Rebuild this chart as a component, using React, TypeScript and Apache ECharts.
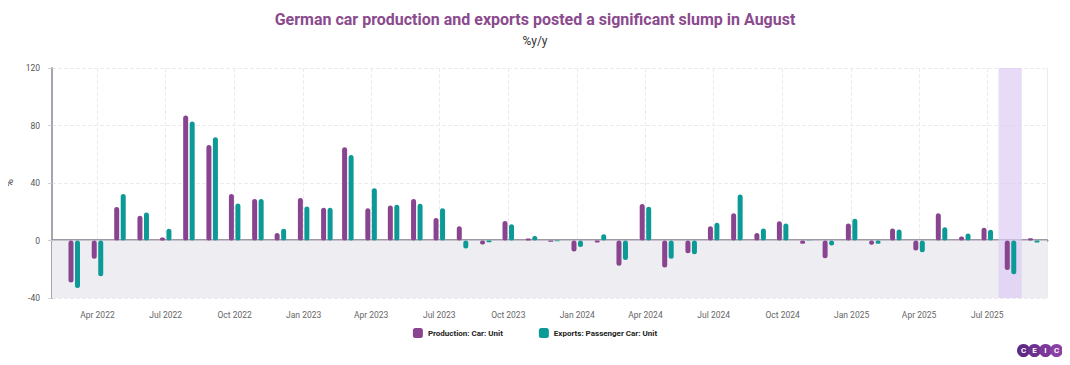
import React, { useEffect, useRef } from "react";
import * as echarts from "echarts";

const startYear = 2022;
const startMonth = 2; // March (0-based)

const production = [
  -29.3, -12.7, 23.3, 17.3, 2.1, 86.9, 66.4, 32.3, 28.8, 5.3,
  29.5, 22.8, 64.8, 22.4, 24.4, 28.8, 15.7, 9.9, -2.8, 13.6, 1.4, -0.9,
  -7.6, -1.4, -17.5, 25.4, -18.7, -8.8, 9.9, 18.9, 5.3, 13.4, -2.3, -12.4,
  11.8, -3.0, 8.3, -6.9, 18.9, 2.8, 8.8, -20.5, 1.6,
];

const exportsCar = [
  -33.0, -24.9, 32.3, 19.4, 8.1, 82.8, 71.9, 25.8, 28.8, 8.1,
  23.7, 22.8, 59.5, 36.4, 24.9, 25.6, 22.4, -5.5, -1.2, 11.3, 3.2, -0.5,
  -4.6, 4.4, -13.6, 23.5, -12.7, -9.5, 12.4, 32.0, 8.3, 11.8, 0.2, -3.5,
  15.2, -2.3, 7.6, -8.1, 9.2, 4.8, 7.4, -23.5, -1.4,
];

const seriesNames = ["Production: Car: Unit", "Exports: Passenger Car: Unit"];
const monthNames = ["Jan", "Feb", "Mar", "Apr", "May", "Jun", "Jul", "Aug", "Sep", "Oct", "Nov", "Dec"];

const dates = production.map((_, i) => new Date(startYear, startMonth + i, 1).getTime());

export default function App() {
  const ref = useRef<HTMLDivElement>(null);
  useEffect(() => {
    if (!ref.current) return;
    const chart = echarts.init(ref.current, undefined, { renderer: "svg" });
    const purple = "#88448f";
    const teal = "#0c9a96";
    const font = "Roboto";
    chart.setOption({
      animation: false,
      textStyle: { fontFamily: font },
      title: {
        text: "German car production and exports posted a significant slump in August",
        subtext: "%y/y",
        left: "center",
        top: 6,
        itemGap: 8,
        textStyle: { fontFamily: font, fontSize: 16, fontWeight: "bold", color: "#8b4a8e" },
        subtextStyle: { fontFamily: font, fontSize: 12, color: "#333" },
      },
      legend: {
        left: "center",
        top: 323,
        itemWidth: 10,
        itemHeight: 10,
        itemGap: 36,
        icon: "roundRect",
        textStyle: { fontFamily: font, fontSize: 8, fontWeight: "bold", color: "#222" },
        data: seriesNames,
      },
      grid: { left: 52, right: 23, top: 68, bottom: 67, outerBoundsMode: "none" },
      xAxis: {
        type: "time",
        min: new Date(2022, 1, 7).getTime(),
        max: new Date(2025, 8, 11).getTime(),
        splitNumber: 14,
        minInterval: 85 * 86400000,
        maxInterval: 95 * 86400000,
        axisLine: { show: true, lineStyle: { color: "#9e98a6", width: 3 } },
        axisTick: { show: true, length: 5, lineStyle: { color: "#e3e3e3" } },
        splitLine: { show: true, lineStyle: { color: "#ececec", type: "dashed" } },
        axisLabel: {
          color: "#666",
          fontSize: 8.5,
          fontFamily: font,
          margin: 12,
          showMinLabel: false,
          showMaxLabel: false,
          formatter: (v: number) => {
            const d = new Date(v);
            return monthNames[d.getMonth()] + " " + d.getFullYear();
          },
        },
      },
      yAxis: [
        {
          type: "value",
          min: -40,
          max: 120,
          interval: 40,
          name: "%",
          nameLocation: "middle",
          nameGap: 36,
          nameRotate: 90,
          nameTextStyle: { color: "#444", fontSize: 11, fontFamily: font },
          axisLine: { show: true, lineStyle: { color: "#a8a3ae", width: 2 } },
          axisTick: { show: true, length: 4, lineStyle: { color: "#cfcfcf" } },
          splitLine: { show: true, lineStyle: { color: "#ececec", type: "dashed" } },
          axisLabel: { color: "#555", fontSize: 8.5, fontFamily: font, margin: 12 },
        },
        {
          type: "value",
          min: -40,
          max: 120,
          interval: 40,
          position: "right",
          axisLine: { show: true, lineStyle: { color: "#ececec", width: 1 } },
          axisTick: { show: false },
          axisLabel: { show: false },
          splitLine: { show: false },
        },
      ],
      series: [
        {
          name: seriesNames[0],
          type: "bar",
          barWidth: 5,
          barGap: "30%",
          itemStyle: { color: purple, borderRadius: 2.5 },
          data: dates.map((d, i) => [d, production[i]]),
          markArea: {
            silent: true,
            data: [
              [
                { yAxis: 0, itemStyle: { color: "#eeedf2" } },
                { yAxis: -40 },
              ],
              [
                { xAxis: new Date(2025, 6, 16).getTime(), itemStyle: { color: "rgba(221,204,245,0.7)" } },
                { xAxis: new Date(2025, 7, 16).getTime() },
              ],
            ],
          },
        },
        {
          name: seriesNames[1],
          type: "bar",
          barWidth: 5,
          barGap: "30%",
          itemStyle: { color: teal, borderRadius: 2.5 },
          data: dates.map((d, i) => [d, exportsCar[i]]),
        },
      ],
      graphic: [
        {
          type: "group",
          right: 7,
          bottom: 8,
          children: [
            { type: "circle", shape: { cx: 6, cy: 6, r: 6.5 }, style: { fill: "#5e2a85" } },
            { type: "circle", shape: { cx: 17, cy: 6, r: 6.5 }, style: { fill: "#6c3190" } },
            { type: "circle", shape: { cx: 28, cy: 6, r: 6.5 }, style: { fill: "#7a389a" } },
            { type: "circle", shape: { cx: 39, cy: 6, r: 6.5 }, style: { fill: "#8a41a5" } },
            { type: "text", x: 6, y: 6, style: { text: "C", fill: "#fff", font: "bold 8px Roboto", align: "center", verticalAlign: "middle" } },
            { type: "text", x: 17, y: 6, style: { text: "E", fill: "#fff", font: "bold 8px Roboto", align: "center", verticalAlign: "middle" } },
            { type: "text", x: 28, y: 6, style: { text: "I", fill: "#fff", font: "bold 8px Roboto", align: "center", verticalAlign: "middle" } },
            { type: "text", x: 39, y: 6, style: { text: "C", fill: "#fff", font: "bold 8px Roboto", align: "center", verticalAlign: "middle" } },
          ],
        },
      ],
    });
    return () => chart.dispose();
  }, []);
  return <div ref={ref} style={{ width: 1070, height: 365, margin: -8 }} />;
}
